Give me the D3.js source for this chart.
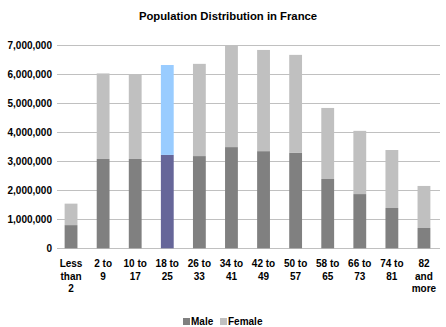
<!DOCTYPE html>
<html>
<head>
<meta charset="utf-8">
<script src="https://cdn.jsdelivr.net/npm/d3@7"></script>
<style>
  html, body { margin: 0; padding: 0; background: #fff; }
  svg { display: block; }
  text { font-family: "Liberation Sans", Arial, sans-serif; font-weight: bold; fill: #000; }
</style>
</head>
<body>
<svg id="chart" width="446" height="327"></svg>
<script>
const categories = [
  ["Less", "than", "2"], ["2 to", "9"], ["10 to", "17"], ["18 to", "25"],
  ["26 to", "33"], ["34 to", "41"], ["42 to", "49"], ["50 to", "57"],
  ["58 to", "65"], ["66 to", "73"], ["74  to", "81"], ["82", "and", "more"]
];
const male   = [800000, 3080000, 3080000, 3220000, 3180000, 3490000, 3350000, 3290000, 2390000, 1870000, 1390000, 700000];
const female = [740000, 2950000, 2920000, 3100000, 3180000, 3520000, 3490000, 3380000, 2450000, 2180000, 2000000, 1450000];
const highlightIndex = 3;
const yTicks = [0, 1000000, 2000000, 3000000, 4000000, 5000000, 6000000, 7000000];
const seriesNames = ["Male", "Female"];

const colors = { Male: "#808080", Female: "#c0c0c0" };
const highlightColors = { Male: "#666699", Female: "#99ccff" };

const svg = d3.select("#chart");
const plot = { left: 55, right: 440, top: 45.3, bottom: 248.3 };

const x = d3.scaleBand()
  .domain(d3.range(categories.length))
  .range([plot.left, plot.right])
  .paddingInner(0.6)
  .paddingOuter(0.3);

const y = d3.scaleLinear().domain([0, 7000000]).range([plot.bottom, plot.top]);

// title
svg.append("text")
  .attr("x", 228).attr("y", 20)
  .attr("text-anchor", "middle")
  .style("font-size", "11.3px")
  .text("Population Distribution in France");

// gridlines
svg.append("g").selectAll("line").data(yTicks).join("line")
  .attr("x1", 57).attr("x2", plot.right)
  .attr("y1", d => Math.round(y(d)) + 0.5).attr("y2", d => Math.round(y(d)) + 0.5)
  .attr("stroke", "#c0c0c0").attr("stroke-width", 1);

// y tick labels
const fmt = d3.format(",");
svg.append("g").selectAll("text").data(yTicks).join("text")
  .attr("x", 52).attr("y", d => y(d))
  .attr("dy", "0.35em")
  .attr("text-anchor", "end")
  .style("font-size", "10px")
  .text(d => fmt(d));

// stacked data
const rows = categories.map((c, i) => ({ i, Male: male[i], Female: female[i] }));
const stack = d3.stack().keys(seriesNames)(rows);

svg.append("g").selectAll("g").data(stack).join("g")
  .each(function(layer) {
    d3.select(this).selectAll("rect").data(layer).join("rect")
      .attr("x", d => x(d.data.i))
      .attr("width", x.bandwidth())
      .attr("y", d => y(d[1]))
      .attr("height", d => y(d[0]) - y(d[1]))
      .attr("fill", d => d.data.i === highlightIndex ? highlightColors[layer.key] : colors[layer.key]);
  });

// x labels
const xl = svg.append("g").selectAll("text").data(categories).join("text")
  .attr("text-anchor", "middle")
  .style("font-size", "10px");
xl.each(function(lines, i) {
  const t = d3.select(this);
  lines.forEach((ln, k) => {
    t.append("tspan")
      .attr("x", x(i) + x.bandwidth() / 2)
      .attr("y", 267 + k * 12.5)
      .text(ln);
  });
});

// legend
const legend = svg.append("g");
const legendItems = [
  { name: "Male", sx: 183, tx: 191 },
  { name: "Female", sx: 220, tx: 228 }
];
legend.selectAll("rect").data(legendItems).join("rect")
  .attr("x", d => d.sx).attr("y", 318).attr("width", 7).attr("height", 7)
  .attr("fill", d => colors[d.name]);
legend.selectAll("text").data(legendItems).join("text")
  .attr("x", d => d.tx).attr("y", 325)
  .style("font-size", "10px")
  .text(d => d.name);
</script>
</body>
</html>
